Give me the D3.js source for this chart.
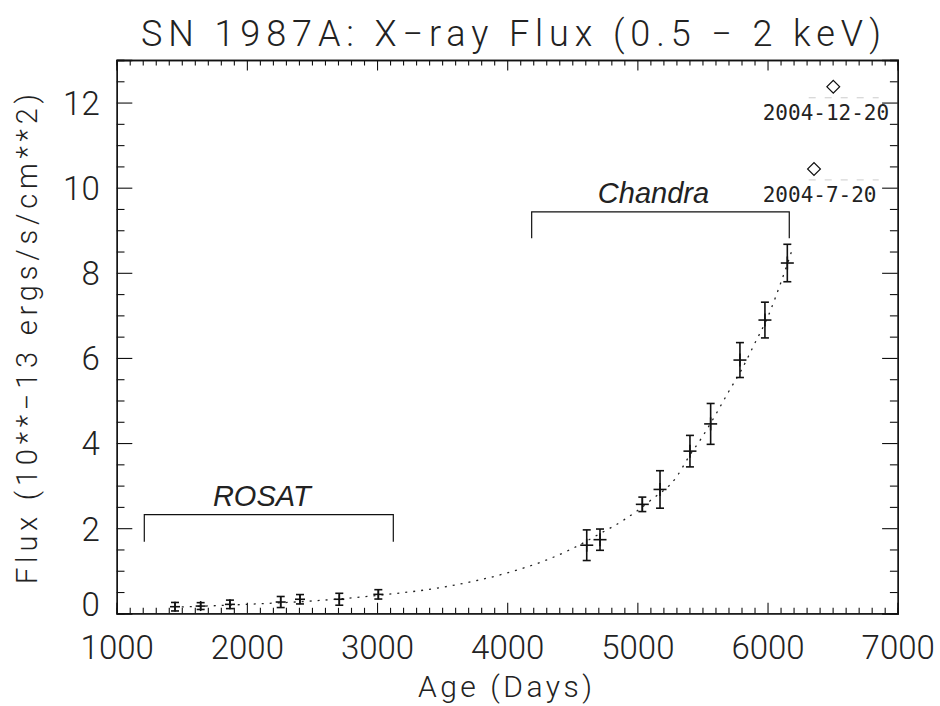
<!DOCTYPE html>
<html>
<head>
<meta charset="utf-8">
<script src="https://cdn.jsdelivr.net/npm/d3@7"></script>
<style>
  body { margin: 0; background: #fff; }
  svg text { font-family: Roboto, "DejaVu Sans", sans-serif; font-weight: 300; fill: #222; }
</style>
</head>
<body>
<svg id="chart" width="940" height="706"></svg>
<script>
// ROSAT points (age in days, flux in 1e-13 erg/s/cm^2, error)
const rosatDays = [1448, 1645, 1870, 2260, 2408, 2710, 3010];
const rosatFlux = [0.155, 0.17, 0.21, 0.265, 0.33, 0.33, 0.445];
const rosatErr = [0.10, 0.08, 0.10, 0.13, 0.11, 0.14, 0.11];

// Chandra points
const chandraDays = [4611, 4713, 5038, 5174, 5404, 5563, 5788, 5980, 6152];
const chandraFlux = [1.60, 1.73, 2.56, 2.91, 3.81, 4.45, 5.95, 6.89, 8.23];
const chandraErr = [0.36, 0.25, 0.17, 0.44, 0.37, 0.48, 0.41, 0.42, 0.44];

// dotted model curve
const fitDays = [1500, 2000, 2500, 3000, 3500, 4000, 4300, 4500, 4700, 4900, 5100, 5300, 5400, 5500, 5600, 5700, 5800, 5900, 6000, 6100, 6190];
const fitFlux = [0.15, 0.21, 0.29, 0.42, 0.61, 0.95, 1.25, 1.52, 1.85, 2.20, 2.65, 3.20, 3.70, 4.15, 4.66, 5.20, 5.72, 6.33, 6.95, 7.75, 8.55];

// the two recent observations (diamonds)
const recentDays = [6357, 6505];
const recentFlux = [10.44, 12.37];
const recentLabels = ["2004-7-20", "2004-12-20"];

// instrument brackets
const instruments = ["ROSAT", "Chandra"];
const bracketStart = [1212, 4188];
const bracketEnd = [3125, 6167];
const bracketTop = [2.32, 9.43];
const bracketLow = [1.68, 8.81];

const xMajor = [1000, 2000, 3000, 4000, 5000, 6000, 7000];
const yMajor = [0, 2, 4, 6, 8, 10, 12];

const svg = d3.select("#chart");
const width = +svg.attr("width");
const height = +svg.attr("height");
const margin = { top: 60, right: width - 897.7, bottom: height - 613.3, left: 116.7 };

const x = d3.scaleLinear().domain([1000, 7000]).range([margin.left, width - margin.right]);
const y = d3.scaleLinear().domain([0, 13]).range([height - margin.bottom, margin.top]);

const xMinor = d3.range(1000, 7001, 100).filter(d => d % 1000 !== 0);
const yMinor = d3.range(0, 13.01, 0.5).filter(d => d % 2 !== 0);

function styleAxis(g) {
    g.select(".domain").attr("stroke", "#111").attr("stroke-width", 1.3);
    g.selectAll(".tick line").attr("stroke", "#111").attr("stroke-width", 1.1);
}

// bottom axis
const bottom = svg.append("g").attr("transform", `translate(0,${y(0)})`);
bottom.call(d3.axisBottom(x).tickValues(xMajor).tickSize(-10.5).tickPadding(22).tickFormat(d3.format("d")));
bottom.selectAll("text").style("font-size", "33px").attr("fill", "#222");
styleAxis(bottom);
svg.append("g").attr("transform", `translate(0,${y(0)})`)
    .call(d3.axisBottom(x).tickValues(xMinor).tickSize(-5.5).tickFormat(""))
    .call(styleAxis);

// top axis
svg.append("g").attr("transform", `translate(0,${y(13)})`)
    .call(d3.axisTop(x).tickValues(xMajor).tickSize(-10.5).tickFormat(""))
    .call(styleAxis);
svg.append("g").attr("transform", `translate(0,${y(13)})`)
    .call(d3.axisTop(x).tickValues(xMinor).tickSize(-5.5).tickFormat(""))
    .call(styleAxis);

// left axis
const left = svg.append("g").attr("transform", `translate(${x(1000)},0)`);
left.call(d3.axisLeft(y).tickValues(yMajor).tickSize(-15.6).tickPadding(17));
left.selectAll("text").style("font-size", "33px").attr("fill", "#222")
    .attr("dy", d => d === 0 ? "0.08em" : "0.36em");
styleAxis(left);
svg.append("g").attr("transform", `translate(${x(1000)},0)`)
    .call(d3.axisLeft(y).tickValues(yMinor).tickSize(-7.8).tickFormat(""))
    .call(styleAxis);

// right axis
svg.append("g").attr("transform", `translate(${x(7000)},0)`)
    .call(d3.axisRight(y).tickValues(yMajor).tickSize(-15.6).tickFormat(""))
    .call(styleAxis);
svg.append("g").attr("transform", `translate(${x(7000)},0)`)
    .call(d3.axisRight(y).tickValues(yMinor).tickSize(-7.8).tickFormat(""))
    .call(styleAxis);

// title and axis labels
svg.append("text")
    .attr("x", 511).attr("y", 46)
    .attr("text-anchor", "middle")
    .attr("textLength", 740).attr("lengthAdjust", "spacing")
    .style("font-size", "36px")
    .text("SN 1987A: X\u2212ray Flux (0.5 \u2212 2 keV)");

svg.append("text")
    .attr("x", 505).attr("y", 697)
    .attr("text-anchor", "middle")
    .attr("textLength", 174).attr("lengthAdjust", "spacing")
    .style("font-size", "30px")
    .text("Age (Days)");

svg.append("text")
    .attr("transform", "translate(37,339) rotate(-90)")
    .attr("text-anchor", "middle")
    .attr("textLength", 490).attr("lengthAdjust", "spacing")
    .style("font-size", "29px")
    .text("Flux (10**\u221213 ergs/s/cm**2)");

// dotted model curve
const fitData = fitDays.map((d, i) => ({ day: d, flux: fitFlux[i] }));
svg.append("path")
    .datum(fitData)
    .attr("fill", "none")
    .attr("stroke", "#222")
    .attr("stroke-width", 1.3)
    .attr("stroke-dasharray", "2,6")
    .attr("d", d3.line().x(d => x(d.day)).y(d => y(d.flux)).curve(d3.curveMonotoneX));

// points with error bars
function drawPoints(days, flux, err, armHalf) {
    const data = days.map((d, i) => ({ day: d, flux: flux[i], err: err[i] }));
    const g = svg.append("g").attr("stroke", "#111").attr("stroke-width", 1.6);
    const pt = g.selectAll("g").data(data).join("g");
    pt.append("line")
        .attr("x1", d => x(d.day)).attr("x2", d => x(d.day))
        .attr("y1", d => y(d.flux - d.err)).attr("y2", d => y(d.flux + d.err));
    pt.append("line")
        .attr("x1", d => x(d.day) - 4).attr("x2", d => x(d.day) + 4)
        .attr("y1", d => y(d.flux + d.err)).attr("y2", d => y(d.flux + d.err));
    pt.append("line")
        .attr("x1", d => x(d.day) - 4).attr("x2", d => x(d.day) + 4)
        .attr("y1", d => y(d.flux - d.err)).attr("y2", d => y(d.flux - d.err));
    pt.append("line")
        .attr("x1", d => x(d.day) - armHalf).attr("x2", d => x(d.day) + armHalf)
        .attr("y1", d => y(d.flux)).attr("y2", d => y(d.flux));
    pt.append("line")
        .attr("x1", d => x(d.day)).attr("x2", d => x(d.day))
        .attr("y1", d => y(d.flux) - armHalf).attr("y2", d => y(d.flux) + armHalf);
}
drawPoints(rosatDays, rosatFlux, rosatErr, 5);
drawPoints(chandraDays, chandraFlux, chandraErr, 6.5);

// instrument brackets
instruments.forEach((name, i) => {
    const x0 = x(bracketStart[i]), x1 = x(bracketEnd[i]);
    svg.append("path")
        .attr("fill", "none").attr("stroke", "#111").attr("stroke-width", 1.2)
        .attr("d", `M${x0},${y(bracketLow[i])}V${y(bracketTop[i])}H${x1}V${y(bracketLow[i])}`);
    svg.append("text")
        .attr("x", (x0 + x1) / 2 - 7)
        .attr("y", y(bracketTop[i]) - 9)
        .attr("text-anchor", "middle")
        .style("font-family", "'Liberation Sans', Arial, sans-serif")
        .style("font-style", "italic")
        .style("font-weight", "normal")
        .style("font-size", "29px")
        .attr("fill", "#000")
        .text(name);
});

// recent observations
const recent = recentDays.map((d, i) => ({ day: d, flux: recentFlux[i], label: recentLabels[i] }));
svg.append("g").selectAll("path").data(recent).join("path")
    .attr("transform", d => `translate(${x(d.day)},${y(d.flux)}) rotate(45)`)
    .attr("d", d3.symbol(d3.symbolSquare, 82)())
    .attr("fill", "none").attr("stroke", "#111").attr("stroke-width", 1.2);

const labelX = x(5963);
svg.append("g").selectAll("line").data(recent).join("line")
    .attr("x1", labelX + 46).attr("x2", labelX + 116)
    .attr("y1", d => y(d.flux - 0.61) - 15).attr("y2", d => y(d.flux - 0.61) - 15)
    .attr("stroke", "#ccc").attr("stroke-width", 1).attr("stroke-dasharray", "7,9");
svg.append("g").selectAll("text").data(recent).join("text")
    .attr("x", labelX)
    .attr("y", d => y(d.flux - 0.61))
    .attr("dy", "0.35em")
    .style("font-family", "'DejaVu Sans Mono', monospace")
    .style("font-weight", "300")
    .style("font-size", "21px")
    .text(d => d.label);
</script>
</body>
</html>
